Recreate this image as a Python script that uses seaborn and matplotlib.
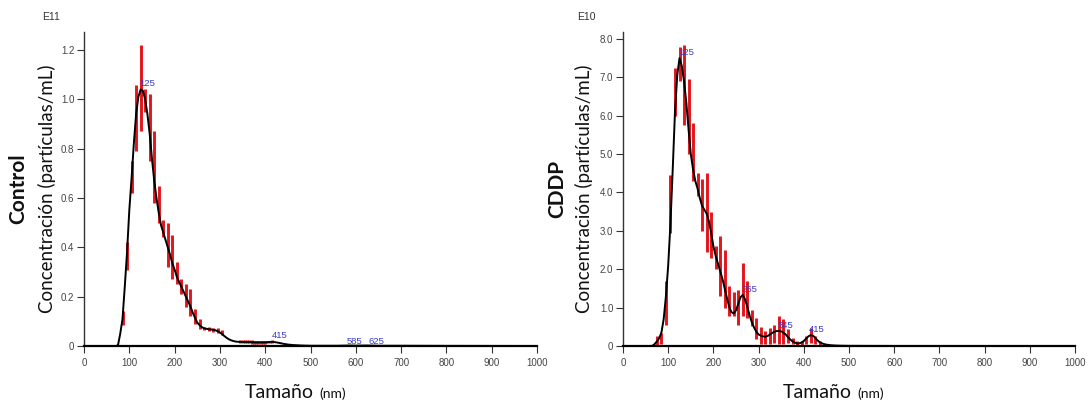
import numpy as np
import pandas as pd
import matplotlib
matplotlib.use("Agg")
import matplotlib.pyplot as plt
import seaborn as sns

# ---------------- data ----------------
# Control (x 1e11 particles/mL)
ctrl_size = [0, 70, 75, 80, 85, 90, 95, 100, 105, 110, 115, 120, 125, 130, 135, 140, 145, 150,
             155, 160, 165, 170, 175, 180, 185, 190, 195, 200, 205, 210, 215, 220, 225, 230,
             235, 240, 245, 250, 255, 260, 265, 270, 275, 280, 285, 290, 295, 300, 305, 310,
             315, 320, 325, 330, 335, 340, 360, 380, 400, 410, 415, 420, 430, 440, 450, 460,
             470, 480, 500, 560, 585, 600, 625, 650, 700, 800, 1000]
ctrl_conc = [0, 0, 0.003, 0.05, 0.11, 0.24, 0.38, 0.55, 0.68, 0.82, 0.94, 1.01, 1.04, 1.035,
             1.0, 0.94, 0.86, 0.76, 0.67, 0.60, 0.54, 0.49, 0.46, 0.43, 0.40, 0.37, 0.335, 0.31,
             0.28, 0.26, 0.24, 0.22, 0.20, 0.18, 0.16, 0.135, 0.115, 0.095, 0.085, 0.077, 0.072,
             0.07, 0.068, 0.067, 0.066, 0.064, 0.06, 0.055, 0.048, 0.04, 0.033, 0.027, 0.023,
             0.02, 0.018, 0.017, 0.016, 0.015, 0.015, 0.016, 0.017, 0.016, 0.013, 0.009, 0.006,
             0.004, 0.003, 0.002, 0.001, 0.001, 0.002, 0.0015, 0.002, 0.001, 0.001, 0.0005, 0.0]
ctrl_bar_size = [85, 95, 105, 115, 125, 135, 145, 155, 165, 175, 185, 195, 205, 215, 225, 235,
                 245, 255, 265, 275, 285, 295, 305, 345, 350, 355, 360, 365, 370, 375, 380,
                 385, 390, 395, 400, 405, 410, 415]
ctrl_bar_lo = [0.085, 0.31, 0.62, 0.79, 0.87, 0.95, 0.75, 0.58, 0.50, 0.44, 0.32, 0.27, 0.25,
               0.21, 0.16, 0.12, 0.09, 0.07, 0.064, 0.06, 0.058, 0.052, 0.043, 0.011, 0.011,
               0.011, 0.011, 0.011, 0.010, 0.010, 0.010, 0.010, 0.010, 0.010, 0.010, 0.011,
               0.011, 0.012]
ctrl_bar_hi = [0.14, 0.42, 0.75, 1.06, 1.22, 1.04, 1.02, 0.87, 0.65, 0.51, 0.50, 0.45, 0.34,
               0.27, 0.25, 0.23, 0.15, 0.11, 0.078, 0.076, 0.075, 0.072, 0.063, 0.025, 0.025,
               0.025, 0.024, 0.024, 0.023, 0.022, 0.022, 0.021, 0.021, 0.021, 0.021, 0.022,
               0.022, 0.023]
ctrl_peak_x = [125, 415, 585, 625]
ctrl_peak_y = [1.04, 0.017, 0.002, 0.002]
ctrl_peak_txt = ["125", "415", "585", "625"]

# CDDP (x 1e10 particles/mL)
cddp_size = [0, 60, 65, 70, 75, 80, 85, 90, 95, 100, 105, 110, 115, 120, 125, 130, 135, 140,
             145, 150, 155, 160, 165, 170, 175, 180, 185, 190, 195, 200, 205, 210, 215, 220,
             225, 230, 235, 240, 245, 250, 255, 260, 265, 270, 275, 280, 285, 290, 295, 300,
             305, 310, 315, 320, 325, 330, 335, 340, 345, 350, 355, 360, 365, 370, 375, 380,
             385, 390, 395, 400, 405, 410, 415, 420, 425, 430, 435, 440, 445, 450, 460, 470,
             480, 500, 550, 600, 1000]
cddp_conc = [0, 0, 0.005, 0.05, 0.12, 0.2, 0.35, 0.7, 1.3, 2.1, 3.2, 4.6, 6.1, 7.05, 7.5, 7.3,
             6.9, 6.35, 5.65, 5.0, 4.6, 4.3, 4.1, 3.85, 3.65, 3.55, 3.45, 3.25, 2.95, 2.6, 2.35,
             2.15, 1.95, 1.75, 1.5, 1.25, 1.02, 0.88, 0.85, 0.93, 1.1, 1.27, 1.33, 1.22, 1.02,
             0.8, 0.62, 0.48, 0.37, 0.3, 0.27, 0.25, 0.24, 0.26, 0.3, 0.34, 0.37, 0.39, 0.39,
             0.38, 0.35, 0.3, 0.23, 0.17, 0.12, 0.09, 0.07, 0.07, 0.09, 0.13, 0.19, 0.25, 0.28,
             0.27, 0.22, 0.15, 0.1, 0.07, 0.05, 0.035, 0.02, 0.012, 0.008, 0.004, 0.002, 0.001,
             0.0]
cddp_bar_size = [75, 85, 95, 105, 115, 125, 135, 145, 155, 165, 175, 185, 195, 205, 215, 225,
                 235, 245, 255, 265, 275, 285, 295, 305, 315, 325, 335, 345, 355, 365, 375,
                 385, 395, 405, 415, 425, 435]
cddp_bar_lo = [0.0, 0.05, 0.55, 2.95, 6.0, 6.9, 5.75, 5.0, 4.3, 3.9, 3.0, 2.45, 2.3, 2.0, 1.3,
               1.0, 0.78, 0.78, 0.56, 0.78, 0.74, 0.52, 0.17, 0.04, 0.04, 0.04, 0.09, 0.04,
               0.04, 0.09, 0.04, 0.02, 0.02, 0.04, 0.09, 0.04, 0.02]
cddp_bar_hi = [0.25, 0.35, 1.7, 4.45, 7.25, 7.8, 7.85, 6.95, 5.8, 4.5, 4.35, 4.5, 3.5, 2.6,
               2.86, 2.5, 1.56, 1.4, 1.47, 2.17, 1.69, 0.95, 0.74, 0.5, 0.4, 0.48, 0.56, 0.78,
               0.7, 0.43, 0.22, 0.13, 0.13, 0.26, 0.48, 0.26, 0.13]
cddp_peak_x = [125, 265, 345, 415]
cddp_peak_y = [7.5, 1.33, 0.39, 0.28]
cddp_peak_txt = ["125", "265", "345", "415"]

x_ticks = [0, 100, 200, 300, 400, 500, 600, 700, 800, 900, 1000]
ctrl_yticks = [0, 0.2, 0.4, 0.6, 0.8, 1.0, 1.2]
ctrl_yticklabels = ["0", "0.2", "0.4", "0.6", "0.8", "1.0", "1.2"]
cddp_yticks = [0, 1, 2, 3, 4, 5, 6, 7, 8]
cddp_yticklabels = ["0", "1.0", "2.0", "3.0", "4.0", "5.0", "6.0", "7.0", "8.0"]

# ---------------- style ----------------
sns.set_theme(style="white")
plt.rcParams["font.family"] = ["Liberation Sans", "DejaVu Sans"]

W, H = 1090, 405
fig = plt.figure(figsize=(W / 100, H / 100), dpi=100)

RED = "#e3141b"
BLUE = "#3a3acb"
TICKC = "#444444"
LABEL_FONT = ["Lato", "DejaVu Sans"]


def px_axes(x0, x1, ytop, ybot):
    return fig.add_axes([x0 / W, (H - ybot) / H, (x1 - x0) / W, (ybot - ytop) / H])


def draw(ax, size, conc, bsize, blo, bhi, px, py, ptxt, ymax, yt, ytl, group, ylab_x,
         grp_x, peak_offsets):
    df = pd.DataFrame({"size": size, "conc": conc})
    ax.vlines(bsize, blo, bhi, color=RED, linewidth=2.1, zorder=2)
    sns.lineplot(data=df, x="size", y="conc", color="black", linewidth=1.4, ax=ax, zorder=3)
    for x, y, t, (dx, dy) in zip(px, py, ptxt, peak_offsets):
        ax.annotate(t, (x, y), xytext=(dx, dy), textcoords="offset points", color=BLUE,
                    fontsize=6.8, ha="left", va="bottom", zorder=4)
    ax.set_xlim(0, 1000)
    ax.set_ylim(0, ymax)
    ax.set_xticks(x_ticks)
    ax.set_xticklabels([str(v) for v in x_ticks])
    ax.set_yticks(yt)
    ax.set_yticklabels(ytl)
    ax.set_xlabel("")
    ax.set_ylabel("")
    for s in ["top", "right"]:
        ax.spines[s].set_visible(False)
    ax.spines["left"].set_color("#333333")
    ax.spines["left"].set_linewidth(1.0)
    ax.spines["bottom"].set_color("black")
    ax.spines["bottom"].set_linewidth(1.6)
    ax.tick_params(axis="both", which="major", direction="out", length=5, width=0.8,
                   color="#333333", labelsize=7, labelcolor=TICKC, pad=2,
                   left=True, bottom=True)
    ax.tick_params(axis="x", pad=4)
    # y labels (two lines)
    ax.text(ylab_x, 0.5, "Concentración (partículas/mL)", transform=ax.transAxes,
            rotation=90, ha="center", va="center", fontsize=13.5, color="#111111",
            family=LABEL_FONT)
    ax.text(grp_x, 0.5, group, transform=ax.transAxes, rotation=90, ha="center",
            va="center", fontsize=15, fontweight="bold", color="#111111", family=LABEL_FONT)


axL = px_axes(84, 537, 32, 346)
axR = px_axes(623, 1075, 32, 346)

draw(axL, ctrl_size, ctrl_conc, ctrl_bar_size, ctrl_bar_lo, ctrl_bar_hi, ctrl_peak_x,
     ctrl_peak_y, ctrl_peak_txt, 1.273, ctrl_yticks, ctrl_yticklabels, "Control",
     (47 - 84) / 453, (18 - 84) / 453, [(-1, 1), (0, 1), (-2, 0), (1, 0)])
draw(axR, cddp_size, cddp_conc, cddp_bar_size, cddp_bar_lo, cddp_bar_hi, cddp_peak_x,
     cddp_peak_y, cddp_peak_txt, 8.18, cddp_yticks, cddp_yticklabels, "CDDP",
     (584 - 623) / 452, (557 - 623) / 452, [(-1, 1), (-1, 1), (-1, 1), (-1, 1)])

# exponent labels
fig.text(42 / W, 1 - 20 / H, "E11", fontsize=7.5, color="#333333", ha="left", va="baseline")
fig.text(577 / W, 1 - 20 / H, "E10", fontsize=7.5, color="#333333", ha="left", va="baseline")

# x labels "Tamaño (nm)"
for x_start in (245, 783):
    fig.text(x_start / W, 1 - 398 / H, "Tamaño", fontsize=14, color="#111111",
             ha="left", va="baseline", family=LABEL_FONT)
    fig.text((x_start + 74) / W, 1 - 398 / H, "(nm)", fontsize=10, color="#111111",
             ha="left", va="baseline", family=LABEL_FONT)

fig.savefig("out.png", dpi=100)
